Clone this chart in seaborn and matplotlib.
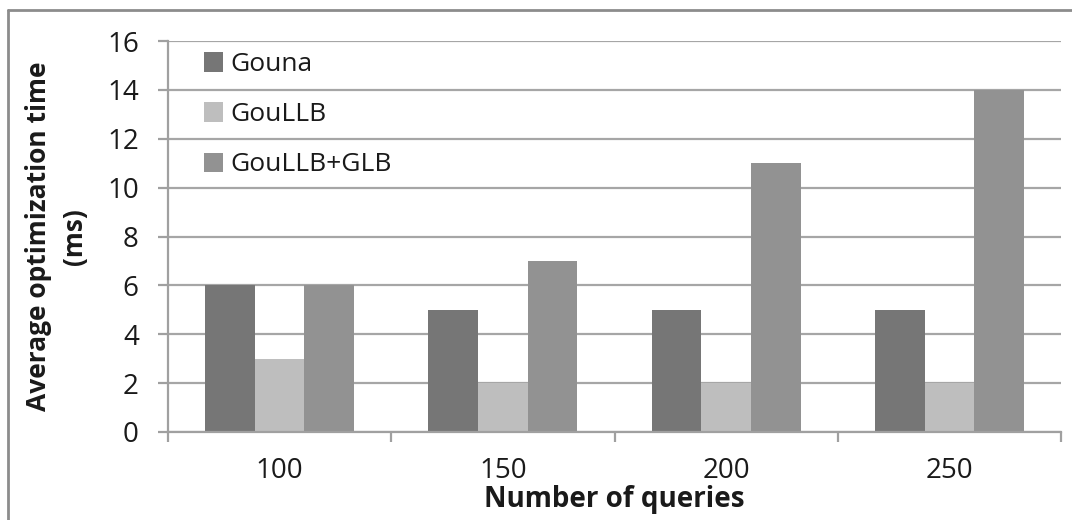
import matplotlib
matplotlib.use("Agg")
import matplotlib.pyplot as plt
import seaborn as sns
import pandas as pd
from matplotlib.lines import Line2D

categories = ["100", "150", "200", "250"]
series_names = ["Gouna", "GouLLB", "GouLLB+GLB"]
gouna = [6, 5, 5, 5]
goullb = [3, 2, 2, 2]
goullb_glb = [6, 7, 11, 14]
y_ticks = [0, 2, 4, 6, 8, 10, 12, 14, 16]
colors = ["#767676", "#bebebe", "#929292"]

rows = []
for name, vals in zip(series_names, [gouna, goullb, goullb_glb]):
    for c, v in zip(categories, vals):
        rows.append({"queries": c, "method": name, "time": v})
df = pd.DataFrame(rows)

sns.set_theme(style="white")
plt.rcParams["font.family"] = ["Open Sans", "DejaVu Sans"]

W, H = 1072, 520
fig = plt.figure(figsize=(W / 100, H / 100), dpi=100)
ax = fig.add_axes([168 / W, 1 - 432 / H, (1061 - 168) / W, (432 - 41) / H])

sns.barplot(data=df, x="queries", y="time", hue="method", order=categories,
            hue_order=series_names, palette=colors, width=0.667, ax=ax,
            saturation=1, edgecolor="none", linewidth=0, legend=True)

text_color = "#1a1a1a"
ax.set_ylim(0, 16)
ax.set_xlim(-0.5, len(categories) - 0.5)
ax.set_yticks(y_ticks)
ax.set_yticklabels([str(t) for t in y_ticks], fontsize=20, color=text_color)
ax.yaxis.grid(True, color="#a6a6a6", linewidth=1.6)
ax.set_axisbelow(True)

# category boundaries carry the tick marks, labels sit at the centres
ax.set_xticks([i - 0.5 for i in range(len(categories) + 1)])
ax.set_xticklabels([])
ax.set_xticks(range(len(categories)), minor=True)
ax.set_xticklabels(categories, minor=True, fontsize=20, color=text_color)
ax.tick_params(axis="x", which="major", length=7.5, width=1.6, color="#a0a0a0", bottom=True)
ax.tick_params(axis="x", which="minor", length=0, pad=18)
ax.tick_params(axis="y", length=7, width=1.6, color="#a0a0a0", left=True, pad=14)

for side in ["top", "right"]:
    ax.spines[side].set_visible(False)
for side in ["left", "bottom"]:
    ax.spines[side].set_color("#a0a0a0")
    ax.spines[side].set_linewidth(1.6)

ax.set_xlabel("Number of queries", fontsize=20, fontweight="bold", color=text_color,
              labelpad=0)
ax.set_ylabel("Average optimization time\n(ms)", fontsize=19, fontweight="bold",
              color=text_color, labelpad=14, linespacing=1.4)

ax.legend(loc="upper left", bbox_to_anchor=(0.025, 1.005), frameon=False, fontsize=19,
          handlelength=0.75, handleheight=0.75, handletextpad=0.25, labelspacing=0.95,
          labelcolor=text_color, borderaxespad=0.1)

# chart frame: top and left edges
fig.add_artist(Line2D([8 / W, 1.0], [1 - 10 / H, 1 - 10 / H], transform=fig.transFigure,
                      color="#8c8c8c", linewidth=2))
fig.add_artist(Line2D([8 / W, 8 / W], [0.0, 1 - 10 / H], transform=fig.transFigure,
                      color="#8c8c8c", linewidth=2))

fig.savefig("out.png", dpi=100)
